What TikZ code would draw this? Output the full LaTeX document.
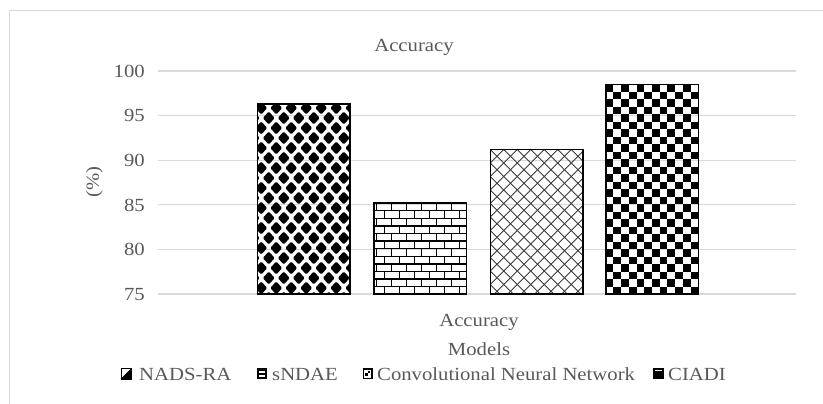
\documentclass[tikz,border=0pt]{standalone}
\usepackage{fontspec}
\setmainfont{Liberation Serif}[FakeStretch=1.12]
\definecolor{txt}{HTML}{595959}
\definecolor{gridc}{HTML}{D9D9D9}
\definecolor{hatch}{HTML}{3A3A3A}
\begin{document}
\begin{tikzpicture}[x=1pt,y=-1pt,
  lbl/.style={inner sep=0pt, text=txt, font=\fontsize{18.5}{20}\selectfont},
  gridl/.style={draw=gridc, line width=1.3pt},
  barline/.style={draw=black, line width=1.5pt},
  brick/.style={draw=black, line width=1.4pt},
  iconbox/.style={draw=black, line width=1pt}]
\useasboundingbox (0,0) rectangle (823,404);
\fill[white] (0,0) rectangle (823,404);
% chart frame
\draw[draw=gridc, line width=1.5pt] (9.5,404) -- (9.5,10.5) -- (823,10.5);
% grid lines and tick labels
\foreach \v in {75,80,...,100} {
  \pgfmathsetmacro\gy{294-(\v-75)*8.92}
  \draw[gridl] (158,\gy) -- (796,\gy);
  \node[lbl, anchor=base east] (t\v) at (145,\gy+6.2) {\v};
}
% ---- bar 1: NADS-RA (diamonds)
\begin{scope}
  \clip (257.25,104) rectangle (349.75,294);
  \foreach \j in {0,...,19} \foreach \i in {-1,...,7} {
    \pgfmathsetmacro\cx{257.25+4+\i*15+mod(\j,2)*7.5}
    \pgfmathsetmacro\cy{104+4+\j*10}
    \fill[black, rounded corners=1.2pt] (\cx-6,\cy) -- (\cx,\cy-6.5) -- (\cx+6,\cy) -- (\cx,\cy+6.5) -- cycle;
  }
\end{scope}
\draw[barline] (257.25,104) rectangle (349.75,294);
% ---- bar 2: sNDAE (bricks)
\begin{scope}
  \clip (373.75,203) rectangle (466.25,294);
  \foreach \j in {0,...,12} {
    \pgfmathsetmacro\ry{203+\j*7.6}
    \draw[brick] (373.75,\ry) -- (466.25,\ry);
    \foreach \i in {-1,...,6} {
      \pgfmathsetmacro\rx{373.75+3+\i*15+mod(\j,2)*7.5}
      \draw[brick] (\rx,\ry) -- (\rx,\ry+7.6);
    }
  }
\end{scope}
\draw[barline] (373.75,203) rectangle (466.25,294);
% ---- bar 3: Convolutional Neural Network (cross hatch)
\begin{scope}
  \clip (490.25,149.5) rectangle (582.75,294);
  \foreach \k in {-12,...,20} {
    \draw[draw=hatch, line width=0.9pt] (490.25+\k*13.5,149.5) -- ++(160,160);
    \draw[draw=hatch, line width=0.9pt] (490.25+\k*13.5,149.5) -- ++(-160,160);
  }
\end{scope}
\draw[barline] (490.25,149.5) rectangle (582.75,294);
% ---- bar 4: CIADI (checkerboard)
\begin{scope}
  \clip (605.75,84.4) rectangle (698.25,294);
  \foreach \j in {0,...,28} \foreach \i in {0,2,...,10} {
    \pgfmathsetmacro\qx{605.75+(\i+mod(\j,2))*7.708}
    \pgfmathsetmacro\qy{84.4+\j*7.5}
    \fill[black] (\qx,\qy) rectangle (\qx+7.708,\qy+7.5);
  }
\end{scope}
\draw[barline] (605.75,84.4) rectangle (698.25,294);
% ---- texts
\node[lbl, anchor=base] (title) at (414,52) {Accuracy};
\node[lbl, rotate=90, anchor=center] (ylab) at (94.5,182) {(\%)};
\node[lbl, anchor=base] (cat) at (479,326) {Accuracy};
\node[lbl, anchor=base] (xlab) at (479,355.5) {Models};
% ---- legend
\node[lbl, anchor=base east] (l1) at (231.5,380) {NADS-RA};
\node[lbl, anchor=base west] (l2) at (272,380) {sNDAE};
\node[lbl, anchor=base west] (l3) at (377,380) {Convolutional Neural Network};
\node[lbl, anchor=base west] (l4) at (668,380) {CIADI};
% icon 1
\fill[black] (131,368.5) -- (131,379) -- (120.5,379) -- cycle;
\draw[iconbox] (121,368.5) rectangle (131,379);
% icon 2
\fill[black] (257,368) rectangle (267,379);
\fill[white] (258.6,370.8) rectangle (265.4,372.8);
\fill[white] (258.6,374.6) rectangle (265.4,377.4);
% icon 3
\fill[black] (362.5,368) rectangle (372.5,379);
\fill[white] (364,369.5) rectangle (371,377.5);
\fill[black] (367.5,370.5) rectangle (370,373);
\fill[black] (365,373) rectangle (367.5,375.5);
% icon 4
\fill[black] (653,368) rectangle (663.5,379);
\fill[white] (654.5,370) rectangle (662,370.9);
\end{tikzpicture}
\end{document}
